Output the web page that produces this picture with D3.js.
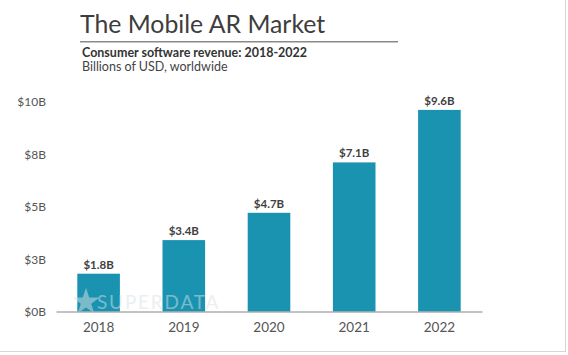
<!DOCTYPE html>
<html>
<head>
<meta charset="utf-8">
<script src="https://cdn.jsdelivr.net/npm/d3@7"></script>
<style>
  html, body { margin: 0; padding: 0; background: #fff; }
  svg { display: block; font-family: Lato, "Open Sans", sans-serif; }
</style>
</head>
<body>
<svg id="chart" width="568" height="355"></svg>
<script>
const years = ["2018", "2019", "2020", "2021", "2022"];
const revenue = [1.8, 3.4, 4.7, 7.1, 9.6];
const valueLabels = ["$1.8B", "$3.4B", "$4.7B", "$7.1B", "$9.6B"];
const tickValues = [0, 2.5, 5, 7.5, 10];
const tickLabels = ["$0B", "$3B", "$5B", "$8B", "$10B"];

const svg = d3.select("#chart");

// frame border (right & bottom visible)
svg.append("rect")
  .attr("x", -1).attr("y", -1)
  .attr("width", 566.5).attr("height", 352.5)
  .attr("fill", "none").attr("stroke", "#d6d6d6").attr("stroke-width", 1);

// title
svg.append("text")
  .attr("x", 80).attr("y", 33)
  .attr("font-size", 24.8).attr("fill", "#3d3d3d")
  .text("The Mobile AR Market");
svg.append("line")
  .attr("x1", 80).attr("x2", 398).attr("y1", 41.8).attr("y2", 41.8)
  .attr("stroke", "#8a8a8a").attr("stroke-width", 1.6);
svg.append("text")
  .attr("x", 82).attr("y", 57)
  .attr("font-size", 12.5).attr("font-weight", "bold").attr("fill", "#333")
  .text("Consumer software revenue: 2018-2022");
svg.append("text")
  .attr("x", 82).attr("y", 71)
  .attr("font-size", 12.5).attr("fill", "#444")
  .text("Billions of USD, worldwide");

const x = d3.scaleBand().domain(years).range([56, 482]).paddingInner(0.5).paddingOuter(0.25);
const y = d3.scaleLinear().domain([0, 10]).range([311.5, 101.5]);

// bars
svg.append("g").selectAll("rect")
  .data(years)
  .join("rect")
  .attr("x", d => x(d))
  .attr("width", x.bandwidth())
  .attr("y", (d, i) => y(revenue[i]))
  .attr("height", (d, i) => y(0) - y(revenue[i]))
  .attr("fill", "#1a93b1");

// value labels
svg.append("g").selectAll("text")
  .data(years)
  .join("text")
  .attr("x", d => x(d) + x.bandwidth() / 2)
  .attr("y", (d, i) => y(revenue[i]) - 5)
  .attr("text-anchor", "middle")
  .attr("font-size", 11.5).attr("font-weight", "bold").attr("fill", "#3f3f3f")
  .text((d, i) => valueLabels[i]);

// watermark
const wm = svg.append("g").attr("opacity", 0.5);
const star = d3.symbol().type(d3.symbolStar).size(230);
wm.append("path").attr("d", star()).attr("transform", "translate(86,302)").attr("fill", "#d9e1e4");
wm.append("text")
  .attr("x", 97).attr("y", 309)
  .attr("font-size", 19).attr("letter-spacing", 1.8).attr("fill", "#d9e1e4")
  .text("SUPERDATA");

// y axis (labels only)
const yAxis = d3.axisLeft(y).tickValues(tickValues).tickSize(0).tickPadding(0)
  .tickFormat((d, i) => tickLabels[i]);
const gy = svg.append("g").attr("transform", "translate(46,0)").call(yAxis);
gy.select(".domain").remove();
gy.selectAll("text").attr("font-size", 12).attr("fill", "#555").attr("font-family", "Lato, sans-serif").attr("dy", "0.35em");

// x axis
const xAxis = d3.axisBottom(x).tickSize(0).tickPadding(11);
const gx = svg.append("g").attr("transform", `translate(0,${y(0)})`).call(xAxis);
gx.select(".domain").attr("stroke", "#888").attr("stroke-width", 1.2);
gx.selectAll("text").attr("font-size", 13.5).attr("fill", "#555").attr("font-family", "Lato, sans-serif");
</script>
</body>
</html>
